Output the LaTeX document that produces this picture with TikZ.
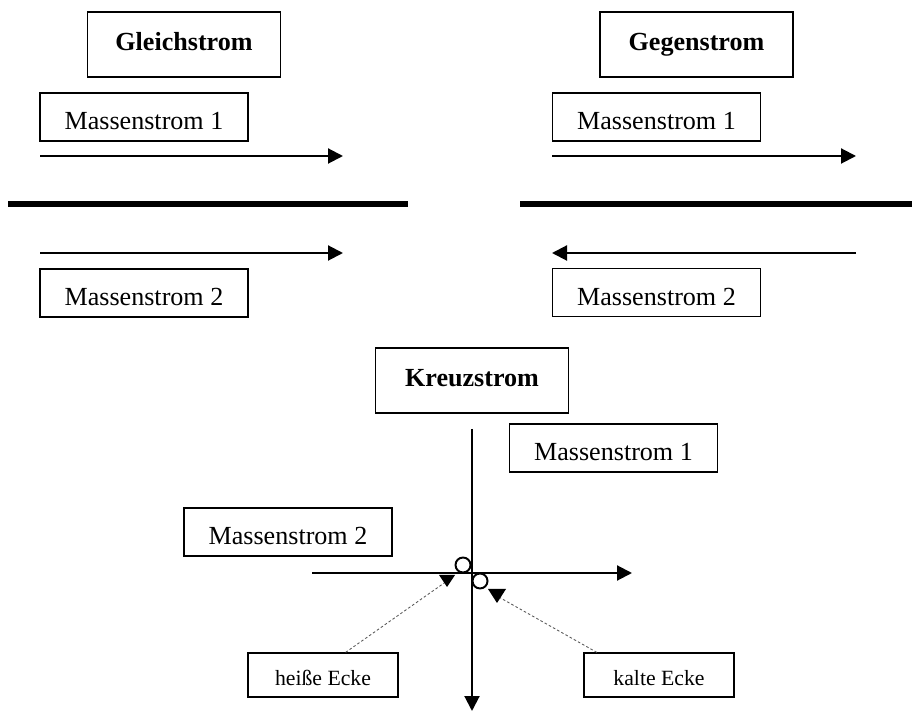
\documentclass[tikz,border=0pt]{standalone}
\usepackage{fontspec}
\setmainfont{Liberation Serif}
\usetikzlibrary{arrows.meta,positioning,calc}

\begin{document}
\begin{tikzpicture}[x=0.46pt,y=-0.46pt,
        flowbox/.style={draw,line width=0.6pt,inner sep=0pt,minimum width=95.7pt,minimum height=22.1pt,text height=11.6pt,text depth=0pt,font=\fontsize{12}{14}\selectfont},
        titlebox/.style={flowbox,minimum width=88.8pt,minimum height=29.9pt,text height=8pt,text depth=2.3pt,font=\fontsize{12}{14}\selectfont\bfseries},
        cornerbox/.style={flowbox,minimum width=69pt,minimum height=20.2pt,text height=9.4pt,text depth=0pt,font=\fontsize{10}{12}\selectfont},
        flow/.style={line width=0.95pt,-{Triangle[length=6.9pt,width=6.9pt]}},
        wall/.style={line width=3.2pt},
        pointer/.style={gray!70!black,line width=0.4pt,dash pattern=on 1.2pt off 1pt},
        ring/.style={line width=0.9pt,fill=white}]
        \useasboundingbox (0,0) rectangle (912,711);

        % Gleichstrom
        \node[titlebox] (gleich) at (184,44.5) {Gleichstrom};
        \node[flowbox] (gleichA) at (144,117) {Massenstrom 1};
        \node[flowbox] (gleichB) at (144,293) {Massenstrom 2};
        \draw[flow] (40,156) -- (343,156);
        \draw[wall] (8,204) -- (408,204);
        \draw[flow] (40,253) -- (343,253);

        % Gegenstrom
        \node[titlebox] (gegen) at (696.5,44.5) {Gegenstrom};
        \node[flowbox] (gegenA) at (656.5,117) {Massenstrom 1};
        \node[flowbox] (gegenB) at (656.5,292.5) {Massenstrom 2};
        \draw[flow] (552,156) -- (856,156);
        \draw[wall] (520,204) -- (912,204);
        \draw[flow] (856,253) -- (552,253);

        % Kreuzstrom
        \node[titlebox] (kreuz) at (472,380.5) {Kreuzstrom};
        \node[flowbox] (kreuzA) at (613.5,448) {Massenstrom 1};
        \node[flowbox] (kreuzB) at (288,532) {Massenstrom 2};
        \draw[flow] (472,429) -- (472,711);
        \draw[flow] (312,573) -- (632,573);
        \draw[ring] (463,565) circle[radius=3.45pt];
        \draw[ring] (480,581) circle[radius=3.45pt];

        % Ecken
        \coordinate (hot) at (447,581);
        \coordinate (cold) at (497,596);
        \node[cornerbox] (heiss) at (323,675) {heiße Ecke};
        \node[cornerbox] (kalt) at (659,675) {kalte Ecke};
        \draw[pointer] (heiss.45) -- (hot);
        \draw[pointer] (kalt.160) -- (cold);
        \fill (hot) ++(-8,-6) -- ++(16,0) -- ++(-8,12) -- cycle;
        \fill (cold) ++(-9,-7) -- ++(18,0) -- ++(-9,14) -- cycle;
    \end{tikzpicture}
\end{document}
